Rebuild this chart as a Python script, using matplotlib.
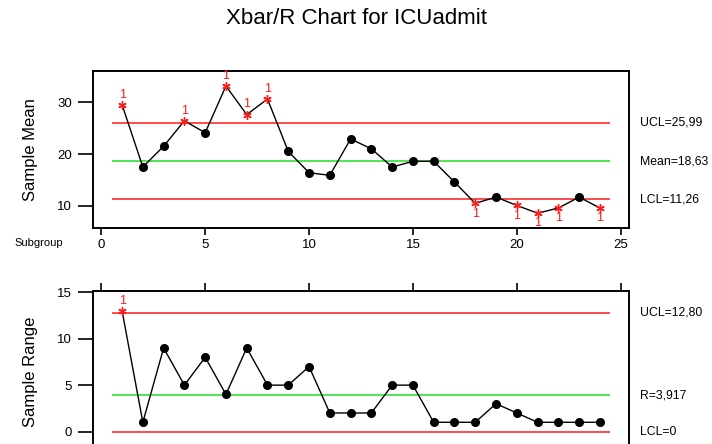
import numpy as np
import matplotlib
matplotlib.use('Agg')
import matplotlib.pyplot as plt

plt.rcParams['font.family'] = ['Liberation Sans', 'DejaVu Sans']

# Subgroup means and ranges for ICUadmit
subgroups = list(range(1, 25))
xbar = [29.5, 17.5, 21.5, 26.4, 24.1, 33.1, 27.6, 30.6, 20.5, 16.4, 15.9, 22.9,
        21.0, 17.5, 18.6, 18.6, 14.6, 10.5, 11.7, 10.1, 8.6, 9.6, 11.7, 9.6]
ranges = [13, 1, 9, 5, 8, 4, 9, 5, 5, 7, 2, 2, 2, 5, 5, 1, 1, 1, 3, 2, 1, 1, 1, 1]

# Control limits
xbar_ucl, xbar_mean, xbar_lcl = 25.99, 18.63, 11.26
r_ucl, r_mean, r_lcl = 12.80, 3.917, 0

xbar_limit_labels = ['UCL=25,99', 'Mean=18,63', 'LCL=11,26']
r_limit_labels = ['UCL=12,80', 'R=3,917', 'LCL=0']

RED = '#ff1a1a'
GREEN = '#1ee01e'

fig = plt.figure(figsize=(7.12, 4.44), dpi=100)
fig.text(0.5, 0.958, 'Xbar/R Chart for ICUadmit', ha='center', va='center', fontsize=16)

ax1 = fig.add_axes([0.1306, 0.4865, 0.7528, 0.3536])
ax2 = fig.add_axes([0.1306, -0.018, 0.7528, 0.3633])


def draw_chart(ax, values, ucl, center, lcl, labels, flag_below):
    x = np.array(subgroups)
    v = np.array(values)
    ax.hlines([ucl, lcl], 0.5, 24.5, colors=RED, lw=1.1, zorder=1)
    ax.hlines(center, 0.5, 24.5, colors=GREEN, lw=1.1, zorder=1)
    ax.plot(x, v, color='black', lw=1, zorder=2)
    out = (v > ucl) | (v < lcl)
    ax.plot(x[~out], v[~out], 'o', color='black', ms=5.5, zorder=3)
    ax.plot(x[out], v[out], marker=(6, 2, 0), ls='none', color=RED,
            ms=6, mew=1.0, zorder=4)
    for xi, vi in zip(x[out], v[out]):
        below = vi < lcl and flag_below
        ax.annotate('1', (xi, vi), xytext=(0, -3 if below else 3),
                    textcoords='offset points', ha='center',
                    va='top' if below else 'bottom', color=RED, fontsize=9)
    for val, lab in zip([ucl, center, lcl], labels):
        ax.text(1.02, val, lab, transform=ax.get_yaxis_transform(),
                ha='left', va='center', fontsize=8.8)
    for s in ax.spines.values():
        s.set_linewidth(1.4)
    ax.set_xlim(-0.4, 25.4)
    ax.tick_params(axis='y', direction='out', length=11, width=1.2, labelsize=9.5, pad=4)


# Means chart
draw_chart(ax1, xbar, xbar_ucl, xbar_mean, xbar_lcl, xbar_limit_labels, True)
ax1.set_ylim(5.75, 36.0)
ax1.set_yticks([10, 20, 30])
ax1.set_xticks([0, 5, 10, 15, 20, 25])
ax1.tick_params(axis='x', direction='out', length=5, width=1.2, labelsize=9.5, pad=3)
ax1.set_ylabel('Sample Mean', fontsize=12, labelpad=14)
fig.text(0.02, 0.453, 'Subgroup', ha='left', va='center', fontsize=8)

# Ranges chart
draw_chart(ax2, ranges, r_ucl, r_mean, r_lcl, r_limit_labels, False)
ax2.set_ylim(-2.2, 15.17)
ax2.set_yticks([0, 5, 10, 15])
ax2.set_xticks([0, 5, 10, 15, 20, 25])
ax2.xaxis.tick_top()
ax2.tick_params(axis='x', direction='out', length=6, width=1.2, labeltop=False)
ax2.set_ylabel('Sample Range', fontsize=12, labelpad=14)

fig.savefig('out.png', dpi=100)
